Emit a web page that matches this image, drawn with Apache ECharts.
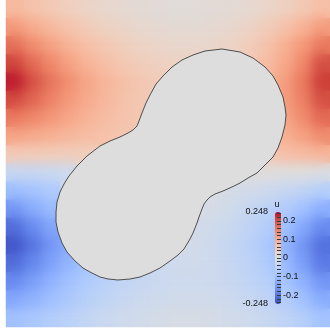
<!DOCTYPE html>
<html><head><meta charset="utf-8">
<script src="https://cdn.jsdelivr.net/npm/echarts@6/dist/echarts.min.js"></script>
<style>
html,body{margin:0;padding:0;background:#fff;width:330px;height:331px;overflow:hidden}
.layer{position:absolute;left:0;top:0;width:330px;height:331px}
#back{position:absolute;left:6px;top:0;width:324px;height:327px;background:#dddddd}
#clip{position:absolute;left:6px;top:0;width:324px;height:327px;overflow:hidden}
#soft{position:absolute;left:-6px;top:0;width:330px;height:331px;filter:blur(6px)}
</style></head><body>
<div id="back"></div>
<div id="crisp" class="layer"></div>
<div id="clip"><div id="soft"></div></div>
<div id="top" class="layer"></div>
<script>
// ---- data (domain units: x 0..324, y 0..327) ----
const xCenters = [9, 27, 45, 63, 81, 99, 117, 135, 153, 171, 189, 207, 225, 243, 261, 279, 297, 315];
const yCenters = [318, 300, 282, 263, 245, 227, 209, 191, 173, 154, 136, 118, 100, 82, 64, 45, 27, 9];

const uRow0  = [0.08, 0.065, 0.052, 0.04, 0.03, 0.022, 0.016, 0.011, 0.008, 0.007, 0.007, 0.009, 0.012, 0.017, 0.026, 0.038, 0.052, 0.07];
const uRow1  = [0.125, 0.1, 0.08, 0.062, 0.048, 0.036, 0.027, 0.02, 0.015, 0.013, 0.013, 0.016, 0.021, 0.03, 0.045, 0.065, 0.09, 0.12];
const uRow2  = [0.17, 0.14, 0.115, 0.09, 0.07, 0.054, 0.042, 0.032, 0.026, 0.022, 0.022, 0.025, 0.032, 0.045, 0.065, 0.095, 0.125, 0.16];
const uRow3  = [0.21, 0.175, 0.145, 0.115, 0.09, 0.071, 0.056, 0.045, 0.038, 0.033, 0.033, null, null, 0.05, 0.075, 0.105, 0.145, 0.2];
const uRow4  = [0.235, 0.2, 0.165, 0.135, 0.108, 0.086, 0.069, 0.056, 0.047, null, null, null, null, null, 0.085, 0.12, 0.16, 0.215];
const uRow5  = [0.205, 0.18, 0.152, 0.125, 0.102, 0.083, 0.067, 0.055, 0.048, null, null, null, null, null, null, 0.12, 0.155, 0.2];
const uRow6  = [0.16, 0.145, 0.127, 0.108, 0.09, 0.075, 0.063, 0.055, null, null, null, null, null, null, null, 0.11, 0.14, 0.175];
const uRow7  = [0.11, 0.102, 0.093, 0.083, 0.074, 0.066, 0.06, 0.055, null, null, null, null, null, null, null, 0.095, 0.115, 0.14];
const uRow8  = [0.05, 0.048, 0.046, 0.043, 0.04, null, null, null, null, null, null, null, null, null, 0.055, 0.07, 0.077, 0.085];
const uRow9  = [-0.04, -0.04, -0.035, -0.03, null, null, null, null, null, null, null, null, null, 0.005, 0.003, 0.0, 0.0, -0.005];
const uRow10 = [-0.1, -0.09, -0.075, null, null, null, null, null, null, null, null, -0.01, -0.015, -0.022, -0.03, -0.04, -0.05, -0.065];
const uRow11 = [-0.16, -0.13, -0.105, null, null, null, null, null, null, null, null, -0.015, -0.025, -0.04, -0.055, -0.072, -0.095, -0.125];
const uRow12 = [-0.21, -0.175, -0.14, null, null, null, null, null, null, null, -0.02, -0.025, -0.035, -0.05, -0.068, -0.095, -0.135, -0.175];
const uRow13 = [-0.235, -0.2, -0.16, -0.13, null, null, null, null, null, null, -0.022, -0.03, -0.043, -0.058, -0.08, -0.115, -0.16, -0.205];
const uRow14 = [-0.21, -0.18, -0.145, -0.115, -0.09, null, null, null, -0.03, -0.026, -0.026, -0.031, -0.04, -0.054, -0.074, -0.105, -0.15, -0.195];
const uRow15 = [-0.175, -0.15, -0.12, -0.095, -0.075, -0.06, -0.049, -0.04, -0.034, -0.03, -0.029, -0.031, -0.038, -0.048, -0.064, -0.088, -0.122, -0.16];
const uRow16 = [-0.135, -0.118, -0.098, -0.079, -0.063, -0.049, -0.039, -0.032, -0.027, -0.024, -0.024, -0.026, -0.031, -0.039, -0.05, -0.068, -0.095, -0.128];
const uRow17 = [-0.095, -0.083, -0.07, -0.057, -0.046, -0.036, -0.028, -0.021, -0.016, -0.013, -0.013, -0.016, -0.021, -0.028, -0.038, -0.05, -0.067, -0.09];

// hole outline (domain units)
const outlineX = [216, 234, 247, 259, 267, 272, 277, 279, 280, 279, 276, 272, 267, 259, 251, 242, 234, 226, 217, 209, 204, 201, 198, 196, 193, 191, 187, 184, 178, 172, 164, 154, 144, 134, 124, 112, 102, 94, 84, 77, 69, 61, 56, 52, 50, 50, 51, 54, 58, 63, 71, 81, 94, 104, 114, 122, 127, 131, 133, 136, 140, 144, 150, 157, 166, 176, 187, 199];
const outlineY = [278, 275, 269, 260, 251, 242, 230, 220, 212, 202, 190, 179, 170, 162, 154, 149, 144, 140, 136, 133, 130, 127, 123, 118, 110, 104, 94, 88, 78, 72, 66, 59, 54, 50, 48, 47, 48, 50, 55, 59, 66, 75, 84, 95, 105, 115, 125, 135, 143, 151, 161, 171, 181, 186, 190, 194, 197, 201, 206, 214, 224, 232, 243, 251, 260, 267, 272, 276];

const uMin = -0.248, uMax = 0.248;
const tickMin = -0.24, tickMax = 0.24, tickStep = 0.02;
const barLabels = [-0.2, -0.1, 0, 0.1, 0.2];
const rangeLabels = [-0.248, 0.248];
const colorStops = ['#3b4cc0', '#4d68d7', '#6282ea', '#779af7', '#8db0fe', '#a3c2ff', '#b8d0f9', '#ccd9ee', '#dddddd', '#ecd3c5', '#f5c4ad', '#f7b194', '#f49a7b', '#ec7f63', '#de604d', '#cb3e38', '#b40426'];

// ---- build ----
const uRows = [uRow0, uRow1, uRow2, uRow3, uRow4, uRow5, uRow6, uRow7, uRow8, uRow9, uRow10, uRow11, uRow12, uRow13, uRow14, uRow15, uRow16, uRow17];
const cells = [];
uRows.forEach((row, j) => row.forEach((v, i) => { if (v !== null) cells.push([i, j, v]); }));
const yCats = yCenters.slice().reverse();

function fieldOption() {
  return {
    animation: false,
    backgroundColor: 'transparent',
    grid: { left: 6, top: 0, width: 324, height: 327, containLabel: false, outerBoundsMode: 'none' },
    xAxis: { type: 'category', data: xCenters, show: false },
    yAxis: { type: 'category', data: yCats, inverse: true, show: false },
    visualMap: { type: 'continuous', show: false, min: uMin, max: uMax, dimension: 2, inRange: { color: colorStops } },
    series: [{ type: 'heatmap', data: cells, progressive: 0, itemStyle: { borderWidth: 0 } }]
  };
}
echarts.init(document.getElementById('crisp'), null, { renderer: 'canvas' }).setOption(fieldOption());
echarts.init(document.getElementById('soft'), null, { renderer: 'canvas' }).setOption(fieldOption());

// colorbar geometry: bar spans uMin..uMax over 92 px starting at 212
const barTop = 212, barH = 92;
const tickTop = barTop + (uMax - tickMax) / (uMax - uMin) * barH;
const tickH = (tickMax - tickMin) / (uMax - uMin) * barH;

const txt = { fontFamily: 'Liberation Sans, Arial, sans-serif', fontSize: 9, color: '#111' };
const topChart = echarts.init(document.getElementById('top'), null, { renderer: 'canvas' });
topChart.setOption({
  animation: false,
  backgroundColor: 'transparent',
  grid: [
    { left: 6, top: 0, width: 324, height: 327, containLabel: false, outerBoundsMode: 'none' },
    { left: 275, top: barTop, width: 6, height: barH, containLabel: false, outerBoundsMode: 'none' },
    { left: 275, top: tickTop, width: 6, height: tickH, containLabel: false, outerBoundsMode: 'none' }
  ],
  xAxis: [
    { gridIndex: 0, type: 'value', min: 0, max: 324, show: false },
    { gridIndex: 1, type: 'value', min: 0, max: 1, show: false },
    { gridIndex: 2, type: 'value', min: 0, max: 1, show: false }
  ],
  yAxis: [
    { gridIndex: 0, type: 'value', min: 0, max: 327, show: false },
    { gridIndex: 1, type: 'value', min: uMin, max: uMax, position: 'right', offset: -2, z: 10,
      axisLine: { show: false }, splitLine: { show: false }, axisTick: { show: false },
      axisLabel: Object.assign({ show: true, customValues: barLabels, margin: 4 }, txt),
      name: 'u', nameLocation: 'end', nameGap: 3, nameTextStyle: Object.assign({ align: 'center' }, txt) },
    { gridIndex: 1, type: 'value', min: uMin, max: uMax, position: 'left', z: 10,
      axisLine: { show: false }, splitLine: { show: false }, axisTick: { show: false },
      axisLabel: Object.assign({ show: true, customValues: rangeLabels, margin: 7 }, txt) },
    { gridIndex: 2, type: 'value', min: tickMin, max: tickMax, interval: tickStep, position: 'right', offset: -2, z: 10,
      axisLine: { show: false }, splitLine: { show: false }, axisLabel: { show: false },
      axisTick: { show: true, length: 4, lineStyle: { color: '#3a3a3a', width: 1 } } }
  ],
  visualMap: {
    type: 'continuous', min: uMin, max: uMax, calculable: false, hoverLink: false, z: 4,
    itemWidth: 6, itemHeight: barH, left: 275, top: barTop, padding: 0, text: null,
    seriesIndex: 0, dimension: 0, inRange: { color: colorStops }
  },
  series: [{
    type: 'custom', xAxisIndex: 0, yAxisIndex: 0, silent: true,
    data: outlineX.map((x, k) => [x, outlineY[k]]),
    renderItem: function (params, api) {
      if (params.dataIndex !== 0) return null;
      const pts = outlineX.map((x, k) => api.coord([x, outlineY[k]]));
      return { type: 'polygon', shape: { points: pts }, style: { fill: '#dcdddc', stroke: '#4d4d4d', lineWidth: 1 } };
    }
  }]
});
</script></body></html>
